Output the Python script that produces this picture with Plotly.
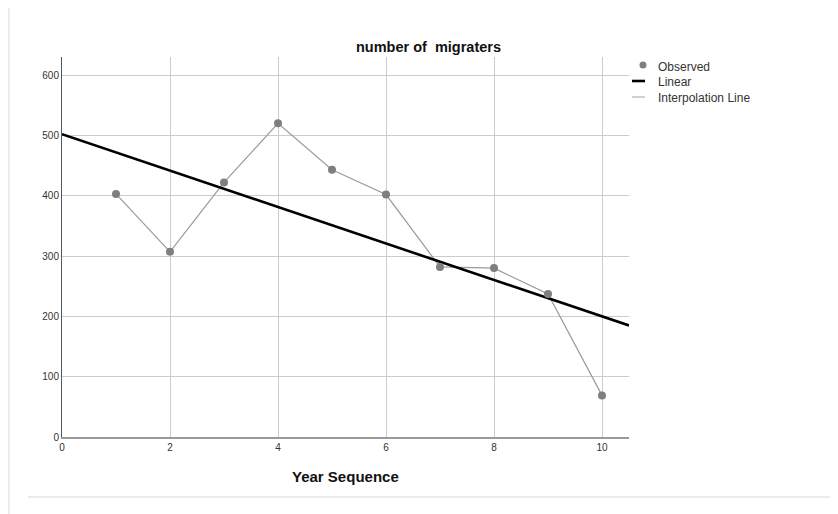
import plotly.graph_objects as go

# ---- data ----
year_sequence = [1, 2, 3, 4, 5, 6, 7, 8, 9, 10]
observed = [403, 307, 422, 520, 443, 402, 282, 280, 237, 69]
linear_intercept = 502.0
linear_slope = -30.2
x_range = [0, 10.5]
y_range = [0, 630]
x_ticks = [0, 2, 4, 6, 8, 10]
y_ticks = [0, 100, 200, 300, 400, 500, 600]
legend_labels = ["Observed", "Linear", "Interpolation Line"]
title_text = "number of\u00a0 migraters"
x_title = "Year Sequence"

FONT = "Liberation Sans, Arial, sans-serif"
OFF = 8  # page body margin
W, H = 838 - OFF, 514 - OFF
L, R, T, B = 62 - OFF, 838 - 629, 57 - OFF, 514 - 437

fig = go.Figure()

# interpolation line
fig.add_trace(go.Scatter(x=year_sequence, y=observed, mode="lines",
                         line=dict(color="#9a9a9a", width=1.2),
                         name=legend_labels[2], showlegend=False, hoverinfo="skip"))
# linear fit
lin_x = list(x_range)
lin_y = [linear_intercept + linear_slope * v for v in lin_x]
fig.add_trace(go.Scatter(x=lin_x, y=lin_y, mode="lines",
                         line=dict(color="black", width=2.6),
                         name=legend_labels[1], showlegend=False, cliponaxis=True))
# observed points
fig.add_trace(go.Scatter(x=year_sequence, y=observed, mode="markers",
                         marker=dict(color="#7f7f7f", size=8),
                         name=legend_labels[0], showlegend=False))

fig.update_xaxes(range=x_range, tickvals=x_ticks, showgrid=True, gridcolor="#cccccc",
                 gridwidth=1, zeroline=False, showline=True, linecolor="#999999",
                 linewidth=2, ticks="", ticklen=0,
                 tickfont=dict(family=FONT, size=10, color="#333333"))
fig.update_yaxes(range=y_range, tickvals=y_ticks, showgrid=True, gridcolor="#cccccc",
                 gridwidth=1, zeroline=False, showline=True, linecolor="#555555",
                 linewidth=1, ticks="", ticklen=0,
                 tickfont=dict(family=FONT, size=10, color="#333333"))

pw, ph = W - L - R, H - T - B
def px(xp):
    # page x -> paper
    return (xp - OFF - L) / pw
def py(yp):
    # page y -> paper
    return (H - B - (yp - OFF)) / ph

shapes = []
# card left edge
shapes.append(dict(type="rect", xref="paper", yref="paper", layer="below",
                   x0=px(8), x1=px(10), y0=py(520), y1=py(0),
                   fillcolor="#ececec", line=dict(width=0)))
# bottom separator
shapes.append(dict(type="line", xref="paper", yref="paper", x0=px(28), x1=px(830),
                   y0=py(497), y1=py(497), line=dict(color="#ebebeb", width=2)))

# manual legend
leg_x_sym = 643
leg_text_x = 656
leg_y = [67, 82, 98]
shapes.append(dict(type="circle", xref="paper", yref="paper", xsizemode="pixel",
                   ysizemode="pixel", xanchor=px(leg_x_sym), yanchor=py(leg_y[0] - 2),
                   x0=-3.5, x1=3.5, y0=-3.5, y1=3.5, fillcolor="#7f7f7f",
                   line=dict(width=0)))
shapes.append(dict(type="line", xref="paper", yref="paper", x0=px(632), x1=px(645),
                   y0=py(leg_y[1] - 1), y1=py(leg_y[1] - 1), line=dict(color="black", width=2.6)))
shapes.append(dict(type="line", xref="paper", yref="paper", x0=px(632), x1=px(645),
                   y0=py(leg_y[2] - 1), y1=py(leg_y[2] - 1), line=dict(color="#b0b0b0", width=1.2)))

annotations = []
for lbl, yy in zip(legend_labels, leg_y):
    annotations.append(dict(text=lbl, xref="paper", yref="paper", x=px(leg_text_x), y=py(yy),
                            xanchor="left", yanchor="middle", showarrow=False,
                            font=dict(family=FONT, size=12, color="#333333")))
annotations.append(dict(text=f"<b>{x_title}</b>", xref="paper", yref="paper", x=0.5, y=py(476),
                        xanchor="center", yanchor="middle", showarrow=False,
                        font=dict(family=FONT, size=15, color="#111111")))
annotations.append(dict(text=f"<b>{title_text}</b>", xref="paper", yref="paper", x=px(428), y=py(47),
                        xanchor="center", yanchor="middle", showarrow=False,
                        font=dict(family=FONT, size=14.5, color="#111111")))

fig.update_layout(width=W, height=H, margin=dict(l=L, r=R, t=T, b=B),
                  paper_bgcolor="white", plot_bgcolor="white", showlegend=False,
                  shapes=shapes, annotations=annotations)

fig.write_html("out.html")
